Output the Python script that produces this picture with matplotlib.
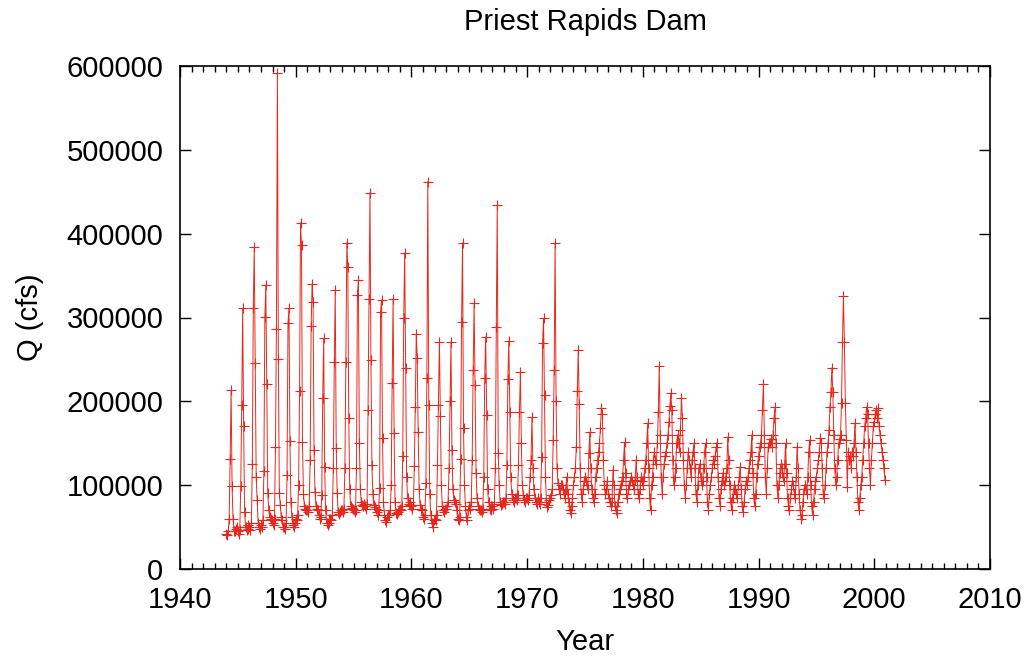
import numpy as np
import matplotlib
matplotlib.use('Agg')
import matplotlib.pyplot as plt
from matplotlib.ticker import MultipleLocator

# monthly mean flow (thousand cfs), Jan..Dec
q_1940s = [
    42, 40, 45, 60, 131, 213, 99, 60, 45, 45, 48, 50,       # 1944
    45, 42, 46, 99, 196, 311, 171, 68, 50, 46, 48, 52,      # 1945
    50, 47, 55, 125, 311, 384, 246, 110, 82, 55, 50, 48,    # 1946
    52, 50, 58, 117, 301, 339, 221, 91, 70, 62, 60, 58,     # 1947
    55, 52, 60, 146, 286, 592, 250, 91, 76, 62, 58, 50,     # 1948
    50, 48, 55, 112, 293, 311, 153, 80, 62, 52, 50, 55,     # 1949
]
q_1950s = [
    60, 58, 65, 100, 212, 413, 386, 152, 90, 75, 72, 70,
    70, 68, 75, 130, 290, 340, 318, 142, 92, 75, 72, 70,
    65, 60, 62, 88, 204, 275, 122, 70, 55, 52, 55, 60,
    60, 58, 65, 121, 247, 333, 144, 91, 68, 66, 68, 70,
    70, 68, 72, 120, 247, 389, 360, 180, 95, 75, 73, 72,
    70, 68, 70, 120, 327, 345, 150, 95, 80, 76, 75, 78,
    75, 72, 78, 190, 322, 449, 249, 124, 90, 76, 74, 72,
    68, 65, 70, 97, 307, 321, 156, 80, 65, 58, 56, 62,
    65, 64, 70, 100, 222, 322, 162, 80, 67, 66, 68, 70,
    72, 70, 75, 135, 300, 377, 240, 110, 85, 78, 76, 80,
]
q_1960s = [
    75, 72, 76, 123, 193, 280, 252, 163, 95, 76, 72, 70,
    62, 60, 65, 103, 228, 462, 196, 90, 65, 55, 50, 58,
    60, 58, 65, 124, 196, 271, 183, 100, 75, 70, 68, 72,
    72, 75, 80, 120, 200, 271, 142, 95, 82, 80, 78, 70,
    60, 58, 62, 131, 295, 389, 168, 100, 75, 62, 58, 70,
    75, 72, 80, 130, 237, 317, 220, 115, 85, 75, 72, 70,
    70, 68, 72, 110, 228, 277, 184, 95, 80, 72, 70, 75,
    75, 72, 78, 120, 289, 434, 138, 100, 80, 76, 78, 80,
    80, 78, 85, 124, 227, 272, 187, 110, 90, 82, 80, 85,
    85, 82, 88, 124, 187, 235, 150, 100, 88, 82, 80, 85,
]
q_1970s = [
    85, 82, 88, 110, 130, 181, 120, 95, 85, 80, 78, 85,
    80, 78, 85, 134, 270, 299, 208, 110, 80, 74, 76, 82,
    85, 88, 95, 154, 237, 389, 200, 120, 103, 95, 90, 100,
    100, 95, 90, 85, 95, 110, 90, 80, 70, 67, 75, 85,
    100, 110, 120, 146, 212, 261, 197, 120, 90, 80, 95, 105,
    110, 105, 100, 95, 138, 163, 120, 95, 85, 80, 90, 110,
    120, 130, 140, 150, 168, 192, 185, 130, 100, 90, 95, 105,
    90, 85, 80, 75, 80, 118, 100, 75, 70, 67, 80, 90,
    95, 100, 105, 110, 130, 151, 115, 90, 85, 95, 100, 105,
    110, 105, 100, 95, 106, 130, 110, 90, 85, 95, 110, 105,
]
q_1980s = [
    100, 110, 120, 130, 150, 174, 120, 85, 70, 100, 110, 130,
    140, 130, 125, 150, 187, 242, 160, 110, 90, 110, 125, 135,
    140, 150, 160, 175, 195, 210, 190, 130, 100, 110, 120, 150,
    160, 150, 140, 166, 204, 180, 130, 100, 85, 100, 120, 140,
    130, 120, 110, 130, 140, 150, 120, 90, 80, 100, 120, 125,
    110, 100, 105, 120, 140, 150, 110, 80, 70, 90, 100, 110,
    120, 130, 125, 135, 145, 150, 110, 85, 75, 95, 105, 115,
    100, 105, 110, 120, 157, 130, 100, 80, 70, 85, 95, 100,
    95, 90, 85, 100, 110, 122, 95, 75, 68, 80, 95, 105,
    100, 110, 120, 130, 140, 160, 115, 85, 75, 90, 110, 125,
]
q_1990s = [
    135, 145, 150, 160, 190, 221, 160, 110, 90, 120, 145, 150,
    150, 155, 145, 160, 180, 193, 150, 100, 85, 100, 115, 125,
    120, 110, 105, 125, 150, 115, 85, 75, 70, 85, 95, 105,
    100, 90, 85, 110, 146, 120, 90, 70, 60, 65, 80, 95,
    100, 95, 90, 110, 140, 154, 100, 75, 65, 80, 95, 105,
    110, 120, 130, 140, 156, 150, 120, 90, 85, 100, 120, 140,
    150, 166, 193, 211, 240, 211, 160, 120, 100, 110, 130, 150,
    155, 160, 198, 271, 326, 271, 198, 154, 98, 140, 130, 135,
    120, 140, 135, 150, 174, 140, 110, 80, 70, 85, 100, 110,
    130, 150, 170, 180, 193, 185, 150, 120, 100, 130, 150, 170,
]
q_2000 = [175, 185, 190, 180, 192, 170, 160, 150, 140, 130, 120, 106]

start_year = 1944

flow = np.array(q_1940s + q_1950s + q_1960s + q_1970s + q_1980s + q_1990s + q_2000) * 1000.0
t = start_year + np.arange(len(flow)) / 12.0

plt.rcParams['font.family'] = ['Liberation Sans', 'DejaVu Sans']
plt.rcParams['font.size'] = 21

fig = plt.figure(figsize=(10.28, 6.59), dpi=100)
ax = fig.add_axes([180/1028, 1 - 569/659, 810/1028, 503/659])

ax.plot(t, flow, color='#e8281e', lw=0.7, marker='+', ms=7.5, mew=0.8)

ax.set_xlim(1940, 2010)
ax.set_ylim(0, 600000)
ax.xaxis.set_major_locator(MultipleLocator(10))
ax.xaxis.set_minor_locator(MultipleLocator(1))
ax.yaxis.set_major_locator(MultipleLocator(100000))
ax.tick_params(which='both', direction='in', top=True, right=True, width=1)
ax.tick_params(which='major', length=8)
ax.tick_params(which='minor', length=4)
ax.tick_params(axis='x', pad=12)
ax.tick_params(axis='y', pad=12)
for s in ax.spines.values():
    s.set_linewidth(1.2)

ax.set_xlabel('Year', labelpad=10)
ax.set_ylabel('Q (cfs)', labelpad=16)
fig.text(585/1028, 1 - 22/659, 'Priest Rapids Dam', ha='center', va='center', fontsize=21)

fig.savefig('out.png', dpi=100)
